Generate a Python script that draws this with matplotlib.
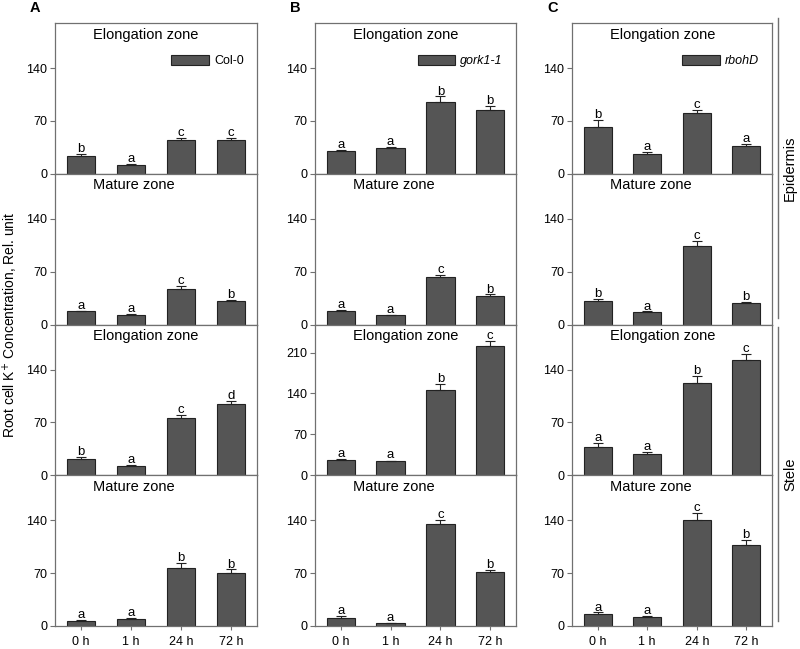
import matplotlib
matplotlib.use('Agg')
import matplotlib.pyplot as plt
from matplotlib.patches import Patch
from matplotlib.lines import Line2D
import numpy as np

plt.rcParams['font.family'] = ['Liberation Sans', 'DejaVu Sans']

times = ['0 h', '1 h', '24 h', '72 h']
zones = ['Elongation zone', 'Mature zone', 'Elongation zone', 'Mature zone']
genotypes = ['Col-0', 'gork1-1', 'rbohD']
panel_tags = ['A', 'B', 'C']

# rows: epidermis elongation, epidermis mature, stele elongation, stele mature
col0_vals = [[24, 12, 44.5, 44.5], [17.4, 12.5, 47.7, 31.2],
             [21.7, 12.8, 76, 94.7], [7, 9.3, 77, 70]]
col0_err = [[2, 1, 3, 3.5], [1, 1, 3, 1.5], [3, 1, 4.5, 4], [1, 1.8, 6.5, 5]]
col0_letters = [['b', 'a', 'c', 'c'], ['a', 'a', 'c', 'b'],
                ['b', 'a', 'c', 'd'], ['a', 'a', 'b', 'b']]

gork_vals = [[30, 33.8, 95.5, 85], [17.8, 12, 62.4, 37.9],
             [26.4, 23.6, 146.3, 221.5], [11, 4, 135, 71]]
gork_err = [[2, 2, 7, 4.5], [1.5, 1, 3, 2], [1.5, 1.5, 9.5, 7.5], [1.8, 0.5, 6, 3.5]]
gork_letters = [['a', 'a', 'b', 'b'], ['a', 'a', 'c', 'b'],
                ['a', 'a', 'b', 'c'], ['a', 'a', 'c', 'b']]

rboh_vals = [[62.5, 26.4, 80, 37], [31.5, 16.4, 104, 28.8],
             [37.2, 28.8, 122, 153], [16, 12, 140.5, 107.7]]
rboh_err = [[8.5, 2.6, 4.4, 2], [2.7, 1, 6.6, 1], [5.3, 2.7, 9.3, 8], [2, 0.8, 9.3, 6.7]]
rboh_letters = [['b', 'a', 'c', 'a'], ['b', 'a', 'c', 'b'],
                ['a', 'a', 'b', 'c'], ['a', 'a', 'c', 'b']]

all_vals = [col0_vals, gork_vals, rboh_vals]
all_err = [col0_err, gork_err, rboh_err]
all_letters = [col0_letters, gork_letters, rboh_letters]

fig = plt.figure(figsize=(8, 6.49), dpi=100)

W, H = 800, 649
col_left = [55, 315, 572]
col_width = [202, 201, 200]
top_px, bot_px = 23, 626
row_h = (bot_px - top_px) / 4

bar_color = '#555555'
frame_color = '#707070'
x = np.arange(len(times))

for c in range(3):
    for r in range(4):
        row_bottom = top_px + (r + 1) * row_h
        ax = fig.add_axes([col_left[c] / W, 1 - row_bottom / H,
                           col_width[c] / W, row_h / H])
        vals = all_vals[c][r]
        errs = all_err[c][r]
        ax.bar(x, vals, width=0.57, color=bar_color, edgecolor='#222222',
               linewidth=0.8, zorder=2)
        ax.errorbar(x, vals, yerr=[np.zeros(4), errs], fmt='none',
                    ecolor='#222222', elinewidth=0.8, capsize=3.5,
                    capthick=0.8, zorder=3)
        for i in range(4):
            ax.text(x[i], vals[i] + errs[i] - 1.5, all_letters[c][r][i],
                    ha='center', va='bottom', fontsize=9.5)
        ytop = 258 if (c == 1 and r == 2) else 200
        ax.set_ylim(0, ytop)
        ax.set_xlim(-0.52, 3.52)
        ax.set_yticks([0, 70, 140, 210] if ytop > 220 else [0, 70, 140])
        ax.tick_params(axis='y', direction='out', length=3.5, width=0.8,
                       color=frame_color, labelsize=9, pad=2)
        if r == 3:
            ax.set_xticks(x)
            ax.set_xticklabels(times)
            ax.tick_params(axis='x', direction='out', length=3, width=0.8,
                           color=frame_color, labelsize=9, pad=4)
        else:
            ax.set_xticks([])
        for s in ax.spines.values():
            s.set_color(frame_color)
            s.set_linewidth(0.9)
        ax.text(0.19, 0.97, zones[r], transform=ax.transAxes,
                ha='left', va='top', fontsize=10.5)
        if r == 0:
            style = 'normal' if c == 0 else 'italic'
            h = Patch(facecolor=bar_color, edgecolor='#222222', linewidth=0.8)
            ax.legend([h], [genotypes[c]], loc='upper right',
                      bbox_to_anchor=(0.99, 0.86), frameon=False,
                      handlelength=3.0, handleheight=0.8, handletextpad=0.4,
                      prop={'size': 9, 'style': style})
    fig.text((col_left[c] - 25) / W, 1 - 8 / H, panel_tags[c],
             fontsize=10.5, fontweight='bold', ha='left', va='center')

fig.text(10 / W, 0.5, 'Root cell K$^{+}$ Concentration, Rel. unit',
         rotation=90, ha='center', va='center', fontsize=10)

# side brackets
fig.add_artist(Line2D([778 / W, 778 / W], [1 - 18 / H, 1 - 318 / H],
                      color=frame_color, linewidth=1))
fig.add_artist(Line2D([778 / W, 778 / W], [1 - 327 / H, 1 - 621 / H],
                      color=frame_color, linewidth=1))
fig.text(790 / W, 1 - 168 / H, 'Epidermis', rotation=90,
         ha='center', va='center', fontsize=10.5)
fig.text(790 / W, 1 - 474 / H, 'Stele', rotation=90,
         ha='center', va='center', fontsize=10.5)

fig.savefig('out.png', dpi=100)
